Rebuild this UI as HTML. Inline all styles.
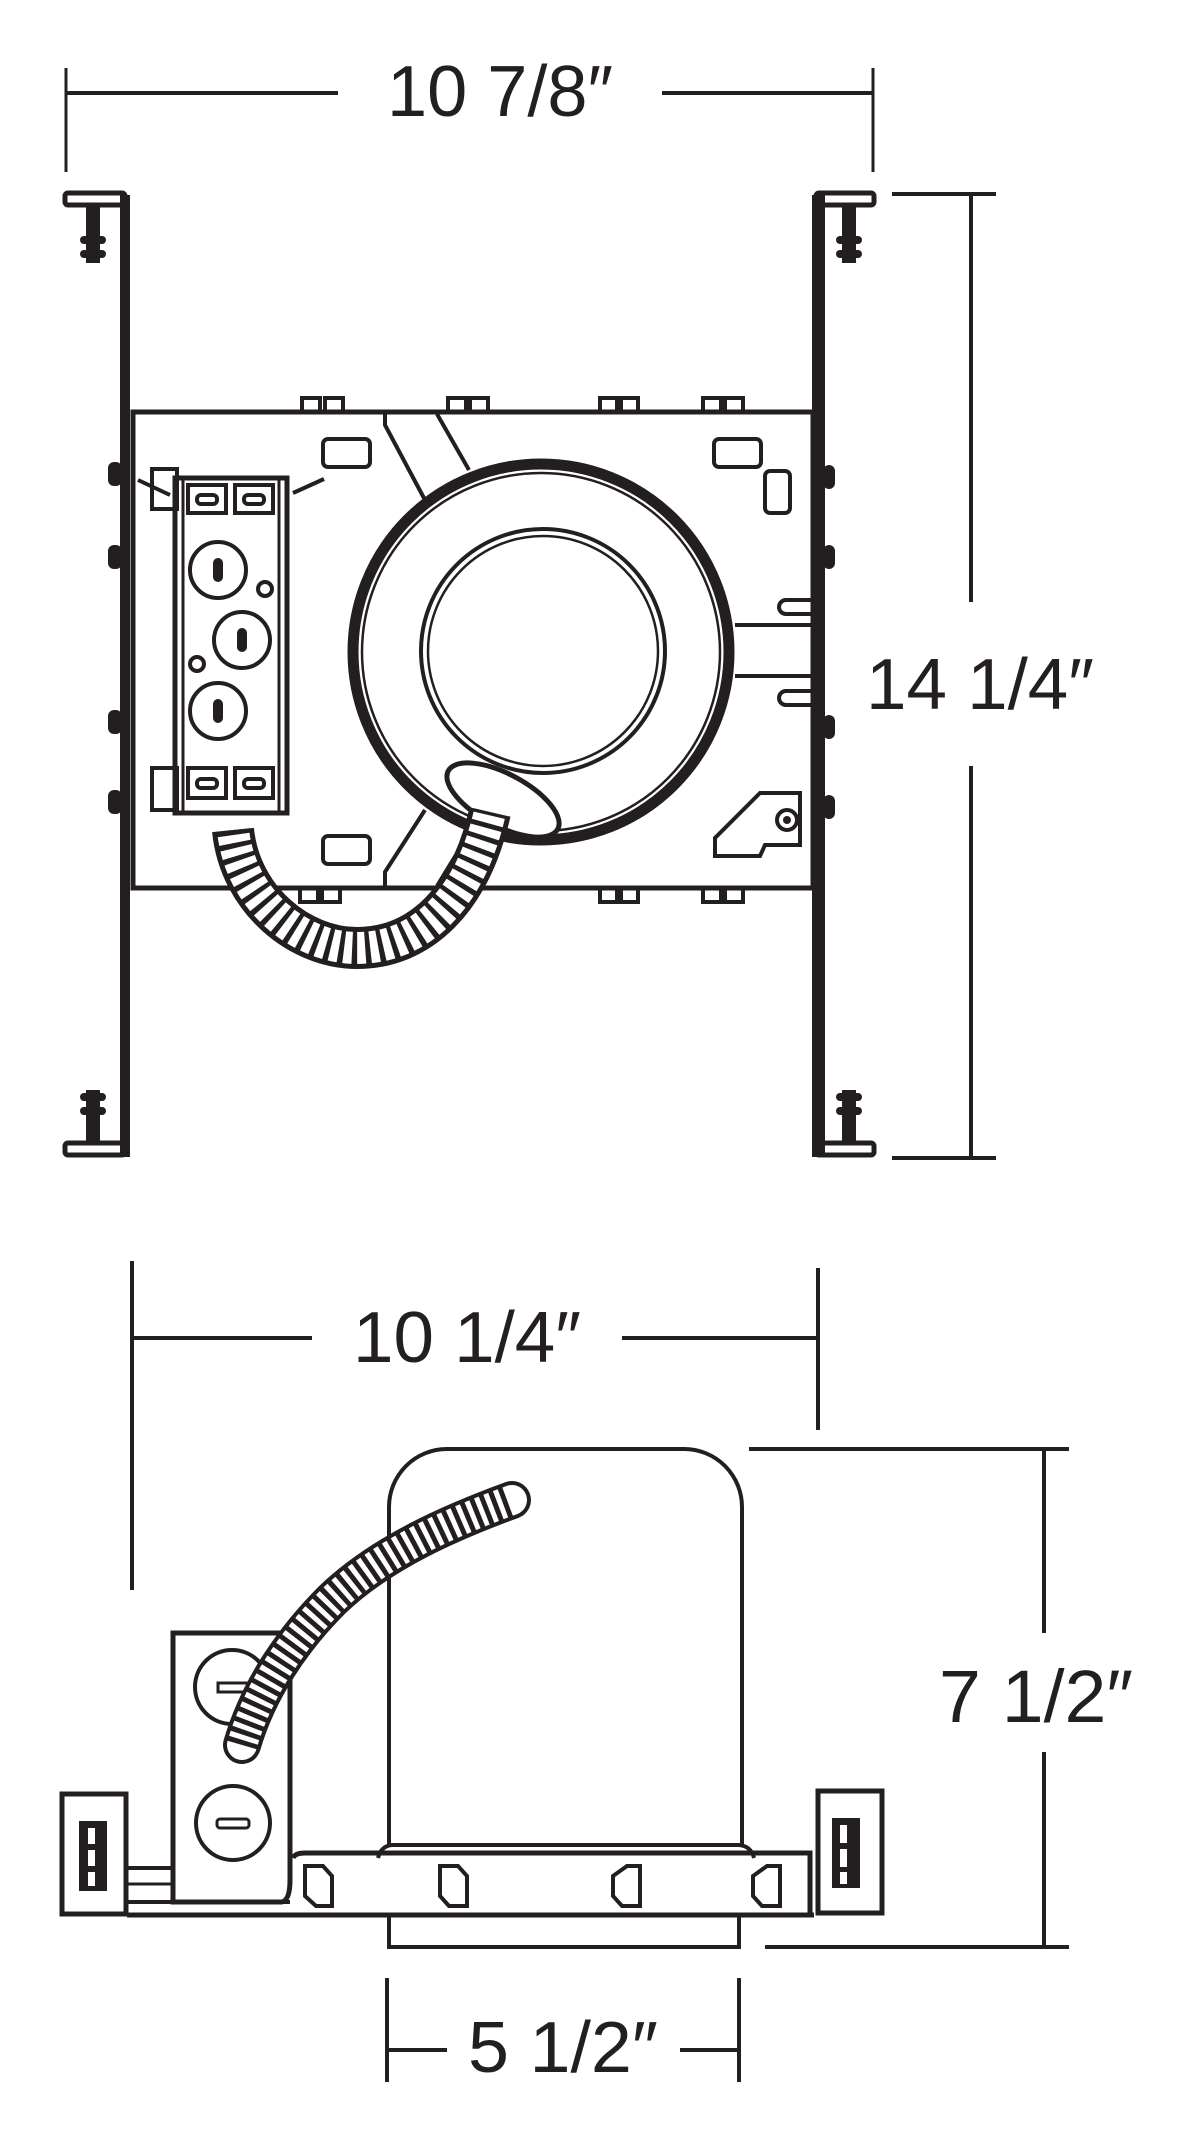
<!DOCTYPE html>
<html><head><meta charset="utf-8"><style>
html,body{margin:0;padding:0;background:#fff}
svg{display:block}
text{font-family:"Liberation Sans",sans-serif;fill:#231f20}
</style></head><body>
<svg width="1200" height="2156" viewBox="0 0 1200 2156" xmlns="http://www.w3.org/2000/svg">
<g stroke="#231f20" fill="none" stroke-linecap="butt">
<line x1="66" y1="68" x2="66" y2="172" stroke-width="3"/>
<line x1="873" y1="68" x2="873" y2="172" stroke-width="3"/>
<line x1="66" y1="93" x2="338" y2="93" stroke-width="4"/>
<line x1="662" y1="93" x2="873" y2="93" stroke-width="4"/>
<line x1="892" y1="194" x2="996" y2="194" stroke-width="4"/>
<line x1="892" y1="1158" x2="996" y2="1158" stroke-width="4"/>
<line x1="971" y1="194" x2="971" y2="602" stroke-width="4"/>
<line x1="971" y1="766" x2="971" y2="1158" stroke-width="4"/>

<rect x="120" y="195" width="10" height="962" fill="#231f20" stroke="none"/>
<rect x="812" y="195" width="13" height="962" fill="#231f20" stroke="none"/>
<g stroke-width="5">
<rect x="65" y="193" width="60" height="12" rx="3"/>
<rect x="816" y="193" width="58" height="12" rx="3"/>
<rect x="65" y="1143" width="60" height="12" rx="3"/>
<rect x="816" y="1143" width="58" height="12" rx="3"/>
</g>
<g fill="#231f20" stroke="none">
<rect x="86" y="205" width="14" height="58"/><rect x="80" y="236" width="26" height="8" rx="4"/><rect x="80" y="250" width="26" height="8" rx="4"/>
<rect x="842" y="205" width="14" height="58"/><rect x="836" y="236" width="26" height="8" rx="4"/><rect x="836" y="250" width="26" height="8" rx="4"/>
<rect x="86" y="1090" width="14" height="53"/><rect x="80" y="1093" width="26" height="8" rx="4"/><rect x="80" y="1107" width="26" height="8" rx="4"/>
<rect x="842" y="1090" width="14" height="53"/><rect x="836" y="1093" width="26" height="8" rx="4"/><rect x="836" y="1107" width="26" height="8" rx="4"/>
</g>
<g fill="#231f20" stroke="none">
<rect x="108" y="462" width="14" height="24" rx="6"/><rect x="108" y="545" width="14" height="24" rx="6"/><rect x="108" y="710" width="14" height="24" rx="6"/><rect x="108" y="790" width="14" height="24" rx="6"/>
<rect x="823" y="465" width="12" height="24" rx="6"/><rect x="823" y="545" width="12" height="24" rx="6"/><rect x="823" y="715" width="12" height="24" rx="6"/><rect x="823" y="795" width="12" height="24" rx="6"/>
</g>

<rect x="133" y="412" width="680" height="476" stroke-width="5"/>
<g stroke-width="4">
<rect x="302" y="398" width="18" height="14"/><rect x="325" y="398" width="18" height="14"/>
<rect x="448" y="398" width="18" height="14"/><rect x="470" y="398" width="18" height="14"/>
<rect x="600" y="398" width="17" height="14"/><rect x="621" y="398" width="17" height="14"/>
<rect x="703" y="398" width="18" height="14"/><rect x="725" y="398" width="18" height="14"/>
<rect x="300" y="888" width="18" height="14"/><rect x="322" y="888" width="18" height="14"/>
<rect x="600" y="888" width="17" height="14"/><rect x="621" y="888" width="17" height="14"/>
<rect x="703" y="888" width="18" height="14"/><rect x="725" y="888" width="18" height="14"/>
</g>
<g stroke-width="4">
<path d="M385 414 L385 425 L425 500"/><line x1="437" y1="414" x2="469" y2="470"/>
<path d="M385 886 L385 872 L425 810"/><line x1="437" y1="886" x2="462" y2="845"/>
<line x1="735" y1="625" x2="812" y2="625"/><line x1="735" y1="676" x2="812" y2="676"/>
<path d="M812 600 H786 a7 7 0 0 0 0 14 H812"/><path d="M812 691 H786 a7 7 0 0 0 0 14 H812"/>
</g>
<g stroke-width="4">
<rect x="323" y="439" width="47" height="28" rx="5"/>
<rect x="714" y="439" width="47" height="28" rx="5"/>
<rect x="765" y="471" width="25" height="42" rx="5"/>
<rect x="323" y="836" width="47" height="28" rx="5"/>
<path d="M760 793 H800 V845 H765 L760 856 H715 V838 Z"/>
<circle cx="787" cy="820" r="10"/>
</g>
<circle cx="787" cy="820" r="4" fill="#231f20" stroke="none"/>

<circle cx="541" cy="652" r="188" stroke-width="11"/>
<circle cx="541" cy="652" r="179" stroke-width="2.5"/>
<circle cx="543" cy="651" r="122" stroke-width="4"/>
<circle cx="543" cy="651" r="115" stroke-width="2.5"/>

<rect x="175" y="478" width="112" height="335" stroke-width="5"/>
<line x1="183" y1="480" x2="183" y2="812" stroke-width="3"/>
<line x1="279" y1="480" x2="279" y2="812" stroke-width="3"/>
<g stroke-width="4">
<rect x="152" y="469" width="25" height="40"/><rect x="152" y="768" width="25" height="42"/>
<rect x="188" y="485" width="38" height="28"/><rect x="235" y="485" width="38" height="28"/>
<rect x="188" y="768" width="38" height="30"/><rect x="235" y="768" width="38" height="30"/>
<rect x="197" y="495" width="20" height="9" rx="4"/><rect x="244" y="495" width="20" height="9" rx="4"/>
<rect x="197" y="779" width="20" height="9" rx="4"/><rect x="244" y="779" width="20" height="9" rx="4"/>
<line x1="138" y1="480" x2="170" y2="495"/><line x1="293" y1="493" x2="324" y2="479"/>
<circle cx="218" cy="570" r="28"/><circle cx="242" cy="640" r="28"/><circle cx="218" cy="711" r="28"/>
<circle cx="265" cy="589" r="7"/><circle cx="197" cy="664" r="7"/>
</g>
<g fill="#231f20" stroke="none">
<rect x="213" y="558" width="10" height="24" rx="5"/><rect x="237" y="628" width="10" height="24" rx="5"/><rect x="213" y="699" width="10" height="24" rx="5"/>
</g>

<ellipse cx="503" cy="800" rx="62" ry="26" transform="rotate(28 503 800)" stroke-width="5" fill="#fff"/>
<path d="M233 830 C240 900 300 948 357 948 C420 948 470 900 490 812" stroke-width="42"/>
<path d="M233 830 C240 900 300 948 357 948 C420 948 470 900 490 812" stroke="#fff" stroke-width="32"/>
<path d="M233 830 C240 900 300 948 357 948 C420 948 470 900 490 812" stroke-width="34" stroke-dasharray="5 8"/>

<line x1="132" y1="1261" x2="132" y2="1590" stroke-width="4"/>
<line x1="818" y1="1268" x2="818" y2="1430" stroke-width="4"/>
<line x1="132" y1="1338" x2="312" y2="1338" stroke-width="4"/>
<line x1="622" y1="1338" x2="818" y2="1338" stroke-width="4"/>
<line x1="749" y1="1449" x2="1069" y2="1449" stroke-width="4"/>
<line x1="765" y1="1947" x2="1069" y2="1947" stroke-width="4"/>
<line x1="1044" y1="1449" x2="1044" y2="1633" stroke-width="4"/>
<line x1="1044" y1="1752" x2="1044" y2="1947" stroke-width="4"/>
<line x1="387" y1="1978" x2="387" y2="2082" stroke-width="4"/>
<line x1="739" y1="1978" x2="739" y2="2082" stroke-width="4"/>
<line x1="387" y1="2050" x2="447" y2="2050" stroke-width="4"/>
<line x1="680" y1="2050" x2="739" y2="2050" stroke-width="4"/>

<path d="M389 1845 V1507 A58 58 0 0 1 447 1449 H684 A58 58 0 0 1 742 1507 V1845" stroke-width="4"/>
<path d="M378 1858 Q381 1846 392 1845 H739 Q751 1846 754 1858" stroke-width="4"/>
<path d="M389 1915 V1947 H739 V1915" stroke-width="4"/>
<path d="M293 1858 Q295 1853 305 1853 H810 V1915" stroke-width="5"/>
<line x1="127" y1="1915" x2="814" y2="1915" stroke-width="5"/>
<line x1="127" y1="1902" x2="290" y2="1902" stroke-width="4"/>
<line x1="127" y1="1868" x2="172" y2="1868" stroke-width="4"/>
<line x1="127" y1="1884" x2="172" y2="1884" stroke-width="3"/>
<g stroke-width="4">
<path d="M305 1866 H323 L332 1876 V1906 H316 L305 1896 Z"/>
<path d="M440 1866 H458 L467 1876 V1906 H449 L440 1896 Z"/>
<path d="M627 1866 H640 V1906 H622 L613 1896 V1876 Z"/>
<path d="M767 1866 H780 V1906 H762 L753 1896 V1876 Z"/>
</g>
<rect x="62" y="1794" width="64" height="120" stroke-width="5"/>
<rect x="79" y="1821" width="28" height="70" fill="#231f20" stroke="none"/>
<rect x="88" y="1828" width="7" height="16" fill="#fff" stroke="none"/>
<rect x="88" y="1850" width="7" height="16" fill="#fff" stroke="none"/>
<rect x="88" y="1872" width="7" height="14" fill="#fff" stroke="none"/>
<rect x="818" y="1791" width="64" height="122" stroke-width="5"/>
<rect x="832" y="1818" width="28" height="70" fill="#231f20" stroke="none"/>
<rect x="840" y="1825" width="7" height="18" fill="#fff" stroke="none"/>
<rect x="840" y="1849" width="7" height="18" fill="#fff" stroke="none"/>
<rect x="840" y="1872" width="7" height="12" fill="#fff" stroke="none"/>
<path d="M173 1902 V1633 H290 V1880 Q290 1900 282 1902 Z" stroke-width="5" fill="#fff"/>
<circle cx="232" cy="1687" r="37" stroke-width="4"/>
<rect x="218" y="1683" width="30" height="9" stroke-width="3"/>
<circle cx="233" cy="1823" r="37" stroke-width="4"/>
<rect x="217" y="1819" width="32" height="9" rx="3" stroke-width="3"/>
<path d="M242 1745 C258 1690 292 1640 332 1600 C382 1552 452 1522 512 1500" stroke-width="38" stroke-linecap="round"/>
<path d="M242 1745 C258 1690 292 1640 332 1600 C382 1552 452 1522 512 1500" stroke="#fff" stroke-width="30" stroke-linecap="round"/>
<path d="M242 1745 C258 1690 292 1640 332 1600 C382 1552 452 1522 512 1500" stroke-width="32" stroke-dasharray="5 5"/>
</g>

<text x="500" y="116" font-size="72" text-anchor="middle" textLength="226" lengthAdjust="spacingAndGlyphs">10 7/8″</text>
<text x="980" y="709" font-size="72" text-anchor="middle" textLength="228" lengthAdjust="spacingAndGlyphs">14 1/4″</text>
<text x="467" y="1362" font-size="72" text-anchor="middle" textLength="228" lengthAdjust="spacingAndGlyphs">10 1/4″</text>
<text x="1036" y="1722" font-size="74" text-anchor="middle" textLength="194" lengthAdjust="spacingAndGlyphs">7 1/2″</text>
<text x="563" y="2072" font-size="72" text-anchor="middle" textLength="190" lengthAdjust="spacingAndGlyphs">5 1/2″</text>
</svg>
</body></html>
